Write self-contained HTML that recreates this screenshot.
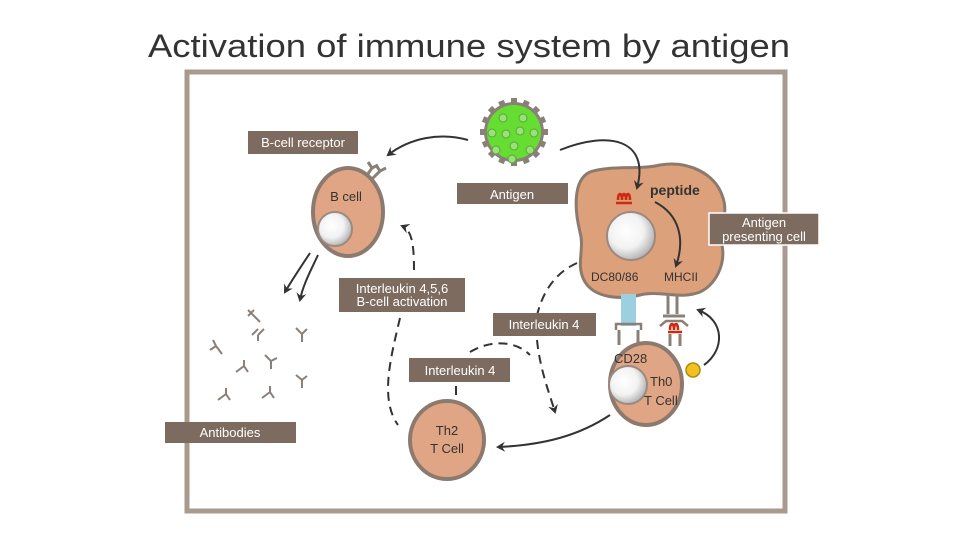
<!DOCTYPE html>
<html><head><meta charset="utf-8"><style>
html,body{margin:0;padding:0;background:#fff;}
svg{display:block;}
text{font-family:"Liberation Sans",sans-serif;}
</style></head><body>
<svg width="960" height="540" viewBox="0 0 960 540" xmlns="http://www.w3.org/2000/svg">
<defs>
<radialGradient id="nuc" cx="0.4" cy="0.4" r="0.6"><stop offset="0" stop-color="#ffffff"/><stop offset="0.6" stop-color="#f2f2f2"/><stop offset="1" stop-color="#b8b8b8"/></radialGradient>
<marker id="ah" markerWidth="10" markerHeight="10" refX="7" refY="5" orient="auto" markerUnits="userSpaceOnUse"><path d="M0,0 L9,5 L0,10 L3,5 Z" fill="#333"/></marker>
</defs>
<text x="148" y="57" font-size="32" fill="#333" textLength="642" lengthAdjust="spacingAndGlyphs">Activation of immune system by antigen</text>
<rect x="187" y="72" width="598" height="439" fill="#fff" stroke="#a89a8c" stroke-width="5"/>

<!-- antigen virus -->
<g stroke="#8a8078" stroke-width="6">
<line x1="514" y1="98" x2="514" y2="166"/><line x1="480" y1="132" x2="548" y2="132"/>
<line x1="490" y1="108" x2="538" y2="156"/><line x1="538" y1="108" x2="490" y2="156"/>
<line x1="501" y1="101" x2="527" y2="163"/><line x1="527" y1="101" x2="501" y2="163"/>
<line x1="483" y1="119" x2="545" y2="145"/><line x1="483" y1="145" x2="545" y2="119"/>
</g>
<circle cx="514" cy="132" r="30" fill="#8a8078"/>
<circle cx="514" cy="132" r="27" fill="#66dd33"/>
<g fill="#9be07a" stroke="#55a830" stroke-width="1">
<circle cx="503" cy="118" r="4"/><circle cx="523" cy="118" r="4"/><circle cx="492" cy="133" r="4"/><circle cx="506" cy="134" r="4"/><circle cx="520" cy="131" r="4"/><circle cx="534" cy="133" r="4"/><circle cx="514" cy="146" r="4"/><circle cx="496" cy="150" r="4"/><circle cx="530" cy="150" r="4"/><circle cx="512" cy="159" r="4"/>
</g>

<!-- B cell receptor -->
<g stroke="#8a8078" stroke-width="3" fill="none">
<path d="M365,178 L372,168 L368,162 M372,168 L378,165"/>
<path d="M371,180 L380,171 L376,165 M380,171 L386,168"/>
</g>
<!-- B cell -->
<ellipse cx="348" cy="212" rx="35" ry="44" fill="#e0a584" stroke="#8c7a6e" stroke-width="4"/>
<circle cx="335" cy="229" r="17" fill="url(#nuc)" stroke="#9a8a80" stroke-width="2"/>
<text x="346" y="201" font-size="13" fill="#333" text-anchor="middle">B cell</text>

<!-- APC -->
<path d="M590,172 C610,165 640,170 660,165 C690,160 715,175 722,195 C730,215 718,225 722,245 C726,265 715,285 700,292 C680,300 660,290 640,295 C620,300 595,298 585,282 C575,265 585,250 580,232 C575,212 572,180 590,172 Z" fill="#dca07a" stroke="#8c7a6e" stroke-width="3"/>
<circle cx="631" cy="236" r="24" fill="url(#nuc)" stroke="#9a8a80" stroke-width="2"/>
<path d="M618,200 c0,-8 4,-8 4,0 c0,-8 4,-8 4,0 c0,-8 4,-8 4,0 M616,203 h16" stroke="#cc2a10" stroke-width="2.5" fill="none"/>
<text x="650" y="195" font-size="14" fill="#333" font-weight="bold">peptide</text>
<text x="591" y="281" font-size="12" fill="#333">DC80/86</text>
<text x="664" y="281" font-size="12" fill="#333">MHCII</text>

<!-- arrows solid -->
<g fill="none" stroke="#333" stroke-width="2" marker-end="url(#ah)">
<path d="M468,140 C440,132 410,138 388,155"/>
<path d="M560,150 C610,130 650,140 637,188"/>
<path d="M655,202 C680,215 685,240 676,266"/>
<path d="M310,253 C300,268 292,280 285,292"/>
<path d="M318,255 C310,272 303,285 300,300"/>
<path d="M610,415 C580,435 545,445 498,447"/>
<path d="M704,365 C725,350 725,320 698,310"/>
</g>
<!-- dashed -->
<g fill="none" stroke="#333" stroke-width="2" stroke-dasharray="9,6">
<path d="M414,270 C414,245 412,230 402,226" marker-end="url(#ah)"/>
<path d="M400,318 C390,360 380,400 398,425"/>
<path d="M577,263 C550,275 540,300 536,320 M537,340 C540,370 550,395 555,412" marker-end="url(#ah)"/>
<path d="M470,352 C490,340 515,340 530,355"/>
<path d="M456,386 L456,395"/>
</g>

<!-- connectors -->
<rect x="621" y="294" width="15" height="32" fill="#9ccfdf"/>
<path d="M616,330 v-6 h25 v6" stroke="#8a8078" stroke-width="2.5" fill="none"/>
<path d="M619,330 v15 M638,330 v15" stroke="#8a8078" stroke-width="3" fill="none"/>
<path d="M668,294 v20 M677,294 v20 M663,316 h22" stroke="#8a8078" stroke-width="3" fill="none"/>
<path d="M660,326 l6,-5 h16 l6,5" stroke="#8a8078" stroke-width="2.5" fill="none"/>
<path d="M670,330 c0,-8 4,-8 4,0 c0,-8 4,-8 4,0 M668,332 h14" stroke="#cc2a10" stroke-width="2.5" fill="none"/>
<path d="M670,334 v12 M680,334 v12" stroke="#8a8078" stroke-width="3" fill="none"/>

<!-- Th0 -->
<ellipse cx="646" cy="384" rx="36" ry="41" fill="#e0a584" stroke="#8c7a6e" stroke-width="4"/>
<circle cx="628" cy="385" r="19" fill="url(#nuc)" stroke="#9a8a80" stroke-width="2"/>
<circle cx="693" cy="370" r="7" fill="#f2c020" stroke="#b08a10" stroke-width="1.5"/>
<text x="614" y="363" font-size="13" fill="#333">CD28</text>
<text x="650" y="386" font-size="13" fill="#333">Th0</text>
<text x="644" y="405" font-size="13" fill="#333">T Cell</text>

<!-- Th2 -->
<ellipse cx="447" cy="440" rx="37" ry="39" fill="#e0a584" stroke="#8c7a6e" stroke-width="4"/>
<text x="447" y="435" font-size="13" fill="#333" text-anchor="middle">Th2</text>
<text x="447" y="453" font-size="13" fill="#333" text-anchor="middle">T Cell</text>

<!-- antibodies -->
<g stroke="#8a8078" stroke-width="2" fill="none">
<path d="M248,310 l6,6 m-6,0 l6,-6 m0,6 l6,6"/>
<path d="M252,335 l6,-6 m0,12 v-6 m0,0 l6,-6"/>
<path d="M296,328 l6,6 v8 m0,-8 l5,-5"/>
<path d="M210,350 l6,-4 l6,8 m-6,-8 l-3,-6"/>
<path d="M265,355 l6,6 v8 m0,-8 l6,-3"/>
<path d="M236,372 l8,-6 l4,6 m-4,-6 v-6"/>
<path d="M296,375 l6,5 v8 m0,-8 l5,-4"/>
<path d="M218,400 l8,-6 l4,6 m-4,-6 v-6"/>
<path d="M262,398 l8,-6 l4,6 m-4,-6 v-6"/>
</g>

<!-- labels -->
<g fill="#7d6b5f">
<rect x="248" y="131" width="110" height="23"/>
<rect x="457" y="183" width="111" height="21"/>
<rect x="709" y="213" width="110" height="32"/>
<rect x="339" y="278" width="126" height="34"/>
<rect x="493" y="313" width="103" height="23"/>
<rect x="409" y="358" width="101" height="24"/>
<rect x="165" y="422" width="131" height="21"/>
</g>
<rect x="709" y="213" width="110" height="32" fill="none" stroke="#fff" stroke-width="1.5"/>
<g fill="#fff" font-size="13" text-anchor="middle">
<text x="303" y="147">B-cell receptor</text>
<text x="512" y="199">Antigen</text>
<text x="764" y="227">Antigen</text>
<text x="764" y="241">presenting cell</text>
<text x="402" y="293">Interleukin 4,5,6</text>
<text x="402" y="306">B-cell activation</text>
<text x="544" y="329">Interleukin 4</text>
<text x="460" y="375">Interleukin 4</text>
<text x="230" y="437">Antibodies</text>
</g>
</svg>
</body></html>
